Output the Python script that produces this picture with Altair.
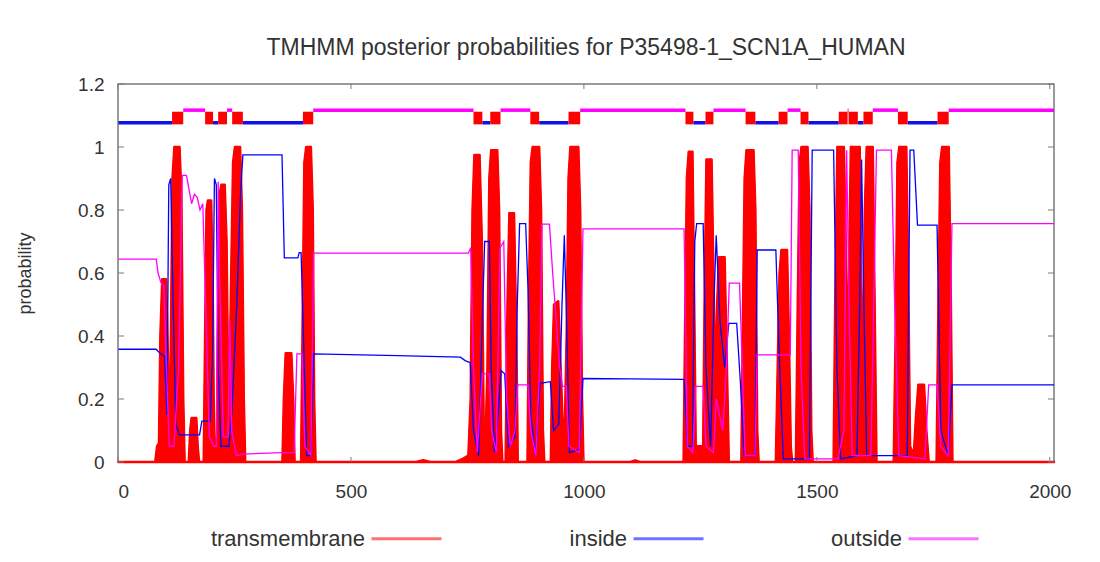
import altair as alt
import pandas as pd

# ---------------- data ----------------
TITLE = "TMHMM posterior probabilities for P35498-1_SCN1A_HUMAN"
SEQ_LEN = 2009
SERIES = ["transmembrane", "inside", "outside"]
COLORS = ["#ff0000", "#0000ff", "#ff00ff"]
X_TICKS = [0, 500, 1000, 1500, 2000]
Y_TICKS = [0, 0.2, 0.4, 0.6, 0.8, 1.0, 1.2]

# transmembrane posterior probability (residue, probability)
tm_pos = [1, 80, 84, 88, 91, 95, 103, 107, 110,
          113, 117, 121, 132, 136, 140, 143,
          152, 155, 158, 168, 171, 174,
          184, 187, 190, 193, 200, 203, 206, 209,
          212, 215, 218, 222, 229, 233, 236, 240, 243, 247, 251, 262, 266, 270, 273,
          353, 356, 360, 372, 376, 379,
          393, 396, 400, 404, 414, 418, 421, 424,
          640, 655, 670,
          725, 740, 752, 757, 761, 765, 776, 781, 785, 788,
          793, 797, 801, 814, 818, 822, 825,
          832, 836, 840, 850, 855, 858,
          879, 882, 886, 890, 904, 908, 912, 915,
          929, 932, 936, 945, 950, 955, 959,
          963, 967, 971, 988, 992, 996, 999,
          1100, 1110, 1120,
          1214, 1217, 1221, 1225, 1233, 1236, 1240,
          1256, 1259, 1263, 1274, 1278, 1282,
          1286, 1290, 1302, 1307, 1311,
          1338, 1341, 1345, 1349, 1364, 1368, 1372, 1375,
          1412, 1416, 1420, 1424, 1436, 1440, 1444, 1447,
          1455, 1459, 1463, 1467, 1480, 1484, 1488, 1491,
          1536, 1540, 1544, 1558, 1562, 1565,
          1569, 1573, 1592, 1596, 1600,
          1603, 1607, 1620, 1624, 1628,
          1665, 1669, 1673, 1677, 1692, 1696, 1700,
          1708, 1713, 1718, 1730, 1735, 1740,
          1757, 1761, 1765, 1769, 1783, 1787, 1791,
          2009]
tm_prob = [0, 0, 0.05, 0.06, 0.4, 0.58, 0.58, 0.35, 0.1,
           0.3, 0.9, 1.0, 1.0, 0.85, 0.2, 0,
           0, 0.1, 0.14, 0.14, 0.05, 0,
           0, 0.4, 0.8, 0.83, 0.83, 0.6, 0.1, 0,
           0.05, 0.5, 0.85, 0.88, 0.88, 0.7, 0.3, 0.3, 0.6, 0.95, 1.0, 1.0, 0.8, 0.2, 0,
           0, 0.2, 0.345, 0.345, 0.2, 0,
           0, 0.4, 0.95, 1.0, 1.0, 0.8, 0.2, 0,
           0, 0.006, 0,
           0, 0.01, 0.02, 0.2, 0.8, 0.975, 0.975, 0.7, 0.1, 0.02,
           0.3, 0.9, 0.99, 0.99, 0.8, 0.1, 0,
           0, 0.5, 0.79, 0.79, 0.4, 0,
           0, 0.5, 0.95, 1.0, 1.0, 0.8, 0.1, 0,
           0, 0.3, 0.5, 0.51, 0.3, 0.1, 0.1,
           0.4, 0.9, 1.0, 1.0, 0.8, 0.2, 0,
           0, 0.005, 0,
           0, 0.4, 0.9, 0.985, 0.985, 0.6, 0.05,
           0.05, 0.5, 0.96, 0.96, 0.6, 0.2,
           0.5, 0.65, 0.65, 0.3, 0,
           0, 0.4, 0.9, 0.99, 0.99, 0.8, 0.1, 0,
           0, 0.3, 0.6, 0.673, 0.673, 0.4, 0.05, 0,
           0, 0.5, 0.95, 1.0, 1.0, 0.8, 0.1, 0,
           0, 0.6, 1.0, 1.0, 0.7, 0.3,
           0.6, 1.0, 1.0, 0.5, 0.3,
           0.8, 1.0, 1.0, 0.5, 0,
           0, 0.4, 0.95, 1.0, 1.0, 0.6, 0.05,
           0.02, 0.15, 0.245, 0.245, 0.1, 0,
           0, 0.5, 0.95, 1.0, 1.0, 0.6, 0,
           0]

# inside posterior probability
in_pos = [1, 82, 90, 100, 105, 109, 113, 117, 124, 132, 175, 180, 198, 203, 207, 211, 215,
          221, 238, 244, 255, 263, 268, 352, 357, 386, 389, 393, 398, 405, 414, 420, 600,
          735, 745, 756, 763, 774, 782, 787, 797, 801, 808, 816, 822, 830, 838, 852, 857,
          862, 875, 880, 886, 896, 906, 928, 935, 946, 953, 958, 962, 969, 990, 998, 1100,
          1215, 1222, 1233, 1238, 1242, 1256, 1262, 1272, 1279, 1284, 1292, 1302, 1311,
          1328, 1336, 1344, 1367, 1372, 1412, 1419, 1428, 1484, 1490, 1536, 1543, 1551,
          1586, 1592, 1596, 1601, 1607, 1694, 1700, 1708, 1716, 1758, 1766, 1782, 1790, 2009]
in_prob = [0.358, 0.358, 0.345, 0.335, 0.15, 0.88, 0.9, 0.6, 0.12, 0.086, 0.086, 0.13, 0.13,
           0.35, 0.9, 0.88, 0.3, 0.05, 0.05, 0.15, 0.5, 0.85, 0.975, 0.975, 0.648, 0.648,
           0.665, 0.665, 0.4, 0.02, 0.02, 0.343, 0.338, 0.333, 0.322, 0.315, 0.1, 0.02,
           0.45, 0.70, 0.70, 0.3, 0.03, 0.15, 0.29, 0.28, 0.05, 0.08, 0.5, 0.757, 0.757,
           0.55, 0.15, 0.02, 0.25, 0.255, 0.1, 0.12, 0.5, 0.72, 0.5, 0.03, 0.04, 0.265,
           0.264, 0.262, 0.05, 0.05, 0.7, 0.757, 0.757, 0.3, 0.05, 0.5, 0.72, 0.45, 0.3,
           0.44, 0.44, 0.25, 0.02, 0.02, 0.673, 0.673, 0.35, 0.01, 0.01, 0.99, 0.99, 0.3,
           0.01, 0.02, 0.5, 0.96, 0.5, 0.02, 0.02, 0.99, 0.99, 0.752, 0.752, 0.1, 0.02,
           0.245, 0.245]

# outside posterior probability
out_pos = [1, 82, 86, 92, 98, 104, 110, 120, 130, 138, 147, 153, 158, 164, 170, 176, 182,
           188, 196, 206, 211, 215, 218, 226, 236, 240, 244, 254, 268, 352, 378, 384, 395,
           401, 414, 420, 752, 757, 763, 771, 782, 797, 802, 812, 820, 828, 834, 842, 852,
           858, 880, 886, 897, 905, 910, 926, 933, 942, 948, 954, 962, 968, 990, 998, 1215,
           1222, 1234, 1240, 1256, 1262, 1278, 1284, 1298, 1306, 1312, 1334, 1340, 1346,
           1367, 1372, 1443, 1447, 1460, 1466, 1474, 1545, 1558, 1564, 1569, 1576, 1616,
           1622, 1628, 1660, 1667, 1676, 1732, 1740, 1758, 1766, 1782, 1790, 2009]
out_prob = [0.644, 0.644, 0.6, 0.57, 0.56, 0.3, 0.05, 0.05, 0.3, 0.91, 0.91, 0.86, 0.82,
            0.85, 0.84, 0.80, 0.82, 0.5, 0.08, 0.05, 0.05, 0.89, 0.6, 0.08, 0.08, 0.45, 0.1,
            0.02, 0.025, 0.03, 0.03, 0.343, 0.343, 0.05, 0.02, 0.663, 0.663, 0.68, 0.3,
            0.03, 0.28, 0.28, 0.1, 0.03, 0.68, 0.70, 0.2, 0.05, 0.1, 0.245, 0.245, 0.1,
            0.02, 0.3, 0.755, 0.755, 0.6, 0.42, 0.3, 0.24, 0.24, 0.05, 0.03, 0.74, 0.74,
            0.05, 0.03, 0.24, 0.24, 0.05, 0.03, 0.2, 0.1, 0.3, 0.568, 0.568, 0.3, 0.02,
            0.02, 0.34, 0.34, 0.99, 0.99, 0.3, 0.01, 0.01, 0.1, 0.99, 0.5, 0.02, 0.02, 0.5,
            0.99, 0.99, 0.5, 0.02, 0.01, 0.245, 0.245, 0.05, 0.02, 0.757, 0.757]

# predicted topology (top strip)
tm_start = [116, 187, 215, 245, 397, 763, 799, 885, 967, 1218, 1261, 1347, 1418, 1465,
            1547, 1568, 1600, 1674, 1759]
tm_end = [140, 204, 234, 268, 419, 782, 821, 904, 992, 1235, 1278, 1368, 1437, 1482,
          1566, 1588, 1620, 1695, 1783]
loop_start = [1, 140, 204, 234, 268, 419, 782, 821, 904, 992, 1235, 1278, 1368, 1437,
              1482, 1566, 1588, 1620, 1695, 1783]
loop_end = [116, 187, 215, 245, 397, 763, 799, 885, 967, 1218, 1261, 1347, 1418, 1465,
            1547, 1568, 1600, 1674, 1759, 2009]
loop_side = ["inside", "outside"] * 10
TOPO_LEVEL = {"inside": 1.077, "outside": 1.117}
TM_BOX = (1.072, 1.112)

# ---------------- tables ----------------
post = pd.concat([
    pd.DataFrame({"pos": tm_pos, "prob": tm_prob, "series": "transmembrane"}),
    pd.DataFrame({"pos": in_pos, "prob": in_prob, "series": "inside"}),
    pd.DataFrame({"pos": out_pos, "prob": out_prob, "series": "outside"}),
], ignore_index=True)
tm_df = pd.DataFrame({"pos": tm_pos, "prob": tm_prob})
loops = pd.DataFrame({"start": loop_start, "end": loop_end, "side": loop_side})
loops["level"] = loops["side"].map(TOPO_LEVEL)
boxes = pd.DataFrame({"start": tm_start, "end": tm_end})
xt = pd.DataFrame({"v": X_TICKS})
yt = pd.DataFrame({"v": Y_TICKS})

FONT = "Liberation Sans"
TXT = "#333333"
FRAME = "#7a7a7a"

xs = alt.Scale(domain=[0, SEQ_LEN], nice=False, zero=False)
ys = alt.Scale(domain=[0, 1.2], nice=False)
cs = alt.Scale(domain=SERIES, range=COLORS)

X = alt.X("pos:Q", scale=xs, axis=alt.Axis(values=X_TICKS, format="d", title=None,
          grid=False, ticks=False, domain=False, labelFont=FONT, labelFontSize=19,
          labelColor=TXT, labelPadding=20))
Y = alt.Y("prob:Q", scale=ys, axis=alt.Axis(values=Y_TICKS, format="~g", title="probability",
          grid=False, ticks=False, domain=False, labelFont=FONT, labelFontSize=19,
          labelColor=TXT, labelPadding=14, titleFont=FONT, titleFontSize=18,
          titleFontWeight="normal", titleColor=TXT, titlePadding=43))

red_area = alt.Chart(tm_df).mark_area(
    color="#ff0000", opacity=1, stroke="#ff0000", strokeWidth=2.5, strokeJoin="round"
).encode(x=X, y=Y)

lines = alt.Chart(post).mark_line(strokeWidth=1.3).encode(
    x="pos:Q", y="prob:Q",
    color=alt.Color("series:N", scale=cs, sort=SERIES, legend=alt.Legend(
        title=None, orient="none", direction="horizontal", legendX=252, legendY=418,
        symbolType="stroke", symbolSize=4900, symbolStrokeWidth=3, symbolOpacity=0.55,
        labelAlign="right", labelOffset={"expr": "-78"}, labelFont=FONT, labelFontSize=22,
        labelColor=TXT, labelLimit=300, columnPadding=121)),
    detail="series:N",
)

inside_loops = alt.Chart(loops).transform_filter(alt.datum.side == "inside").mark_rule(
    color="#1010e8", strokeWidth=3.5).encode(x="start:Q", x2="end:Q", y="level:Q")
outside_loops = alt.Chart(loops).transform_filter(alt.datum.side == "outside").mark_rule(
    color="#ff00ff", strokeWidth=3.5).encode(x="start:Q", x2="end:Q", y="level:Q")
tm_boxes = alt.Chart(boxes).mark_rect(color="#ff0000").encode(
    x="start:Q", x2="end:Q", y=alt.datum(TM_BOX[0]), y2=alt.datum(TM_BOX[1]))

tick_b = alt.Chart(xt).mark_rule(color=FRAME, strokeWidth=1).encode(
    x="v:Q", y=alt.datum(0), y2=alt.datum(0.016))
tick_t = alt.Chart(xt).mark_rule(color=FRAME, strokeWidth=1).encode(
    x="v:Q", y=alt.datum(1.2), y2=alt.datum(1.184))
tick_l = alt.Chart(yt).mark_rule(color=FRAME, strokeWidth=1).encode(
    y="v:Q", x=alt.datum(0), x2=alt.datum(13))
tick_r = alt.Chart(yt).mark_rule(color=FRAME, strokeWidth=1).encode(
    y="v:Q", x=alt.datum(SEQ_LEN), x2=alt.datum(SEQ_LEN - 13))

chart = alt.layer(
    red_area, lines, inside_loops, outside_loops, tm_boxes,
    tick_b, tick_t, tick_l, tick_r,
).properties(
    width=936, height=378,
    title=alt.TitleParams(TITLE, font=FONT, fontSize=23, fontWeight="normal",
                          color=TXT, anchor="middle", offset=15),
    padding={"left": 110, "top": 76, "right": 30, "bottom": 98},
    autosize=alt.AutoSizeParams(type="none"),
    background="white",
).configure_view(stroke=FRAME, strokeWidth=1.5)

chart.save("out.html", embed_options={"renderer": "svg", "actions": False})
